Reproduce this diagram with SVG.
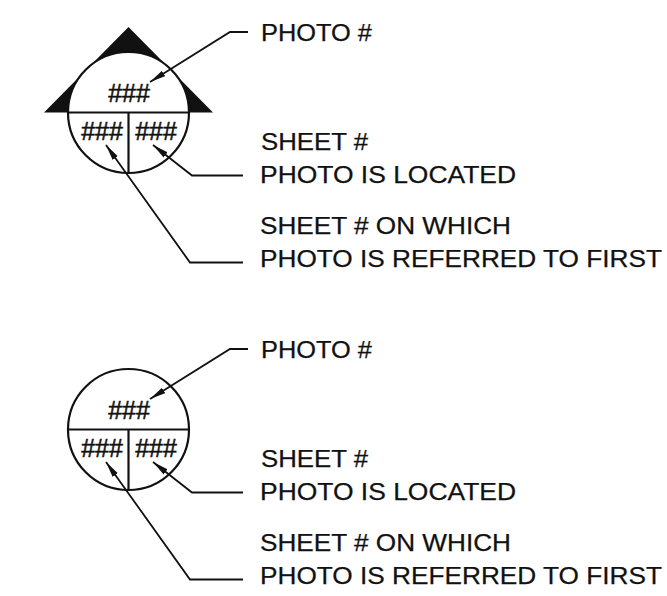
<svg xmlns="http://www.w3.org/2000/svg" width="667" height="596" viewBox="0 0 667 596">
  <style>
    .label { font-family: "Liberation Sans", Arial, sans-serif; font-size: 24px; fill: #111; stroke: #111; stroke-width: 0.25; }
    .num { font-family: "Liberation Sans", Arial, sans-serif; font-size: 25px; fill: #111; stroke: #111; stroke-width: 0.5; text-anchor: middle; }
    .ring { fill: #fff; stroke: #111; stroke-width: 2.2; }
    .div { stroke: #111; stroke-width: 2.2; fill: none; }
    .leader { stroke: #111; stroke-width: 1.8; fill: none; marker-end: url(#tip); }
  </style>
  <defs>
    <marker id="tip" viewBox="0 0 16 7" refX="16" refY="3.5" markerWidth="16" markerHeight="7" markerUnits="userSpaceOnUse" orient="auto">
      <path d="M0,0.3 L16,3.5 L0,6.7 z" fill="#111"/>
    </marker>
  </defs>
  <rect width="667" height="596" fill="#fff"/>

  <!-- photo key with direction triangle -->
  <g id="photo-key-directional">
    <polygon points="128.5,27 44,112.5 213,112.5" fill="#111"/>
    <circle class="ring" cx="128.5" cy="112.5" r="60.5"/>
    <line class="div" x1="68" y1="112.5" x2="189" y2="112.5"/>
    <line class="div" x1="128.5" y1="112.5" x2="128.5" y2="173"/>
    <text class="num" x="129" y="102">###</text>
    <text class="num" x="102" y="140">###</text>
    <text class="num" x="156" y="140">###</text>
  </g>

  <g id="labels-directional">
    <text class="label" x="261" y="40.5" textLength="111" lengthAdjust="spacingAndGlyphs">PHOTO #</text>
    <text class="label" x="261" y="150" textLength="107" lengthAdjust="spacingAndGlyphs">SHEET #</text>
    <text class="label" x="260" y="183" textLength="256" lengthAdjust="spacingAndGlyphs">PHOTO IS LOCATED</text>
    <text class="label" x="260" y="234" textLength="251" lengthAdjust="spacingAndGlyphs">SHEET # ON WHICH</text>
    <text class="label" x="260" y="267" textLength="402" lengthAdjust="spacingAndGlyphs">PHOTO IS REFERRED TO FIRST</text>
  </g>

  <!-- plain photo key -->
  <g id="photo-key-plain">
    <circle class="ring" cx="128.5" cy="429.5" r="60.5"/>
    <line class="div" x1="68" y1="429.5" x2="189" y2="429.5"/>
    <line class="div" x1="128.5" y1="429.5" x2="128.5" y2="490"/>
    <text class="num" x="129" y="419">###</text>
    <text class="num" x="102" y="457">###</text>
    <text class="num" x="156" y="457">###</text>
  </g>

  <g id="labels-plain">
    <text class="label" x="261" y="357.5" textLength="111" lengthAdjust="spacingAndGlyphs">PHOTO #</text>
    <text class="label" x="261" y="467" textLength="107" lengthAdjust="spacingAndGlyphs">SHEET #</text>
    <text class="label" x="260" y="500" textLength="256" lengthAdjust="spacingAndGlyphs">PHOTO IS LOCATED</text>
    <text class="label" x="260" y="551" textLength="251" lengthAdjust="spacingAndGlyphs">SHEET # ON WHICH</text>
    <text class="label" x="260" y="584" textLength="402" lengthAdjust="spacingAndGlyphs">PHOTO IS REFERRED TO FIRST</text>
  </g>

  <g id="connectors">
    <path class="leader" d="M248,32 H230 L150,82"/>
    <path class="leader" d="M243,175.5 H192 L153,145"/>
    <path class="leader" d="M243,262.5 H190 L106,145"/>
    <path class="leader" d="M248,349 H230 L150,399"/>
    <path class="leader" d="M243,492.5 H192 L153,462"/>
    <path class="leader" d="M243,579.5 H190 L106,462"/>
  </g>
</svg>
